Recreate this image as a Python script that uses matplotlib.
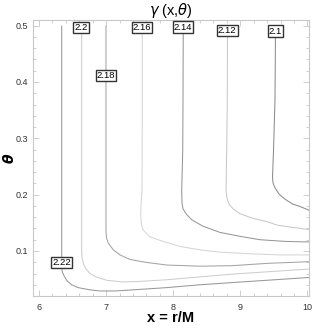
import matplotlib
matplotlib.use("Agg")
import matplotlib.pyplot as plt
from matplotlib.ticker import MultipleLocator

plt.rcParams['font.family'] = ['Liberation Sans', 'DejaVu Sans']

# contour levels of gamma(x, theta)
levels = [2.1, 2.12, 2.14, 2.16, 2.18, 2.2, 2.22]
level_labels = ["2.1", "2.12", "2.14", "2.16", "2.18", "2.2", "2.22"]

# traced contour lines (x = r/M, theta)
x_210 = [9.525, 9.517, 9.495, 9.480, 9.487, 9.517, 9.577, 9.666, 9.785, 9.890, 10.031]
t_210 = [0.500, 0.368, 0.279, 0.231, 0.221, 0.212, 0.201, 0.192, 0.183, 0.179, 0.172]

x_212 = [8.809, 8.806, 8.797, 8.787, 8.802, 8.832, 8.891, 8.996, 9.189, 9.398, 9.547, 9.770, 10.031]
t_212 = [0.500, 0.368, 0.279, 0.208, 0.194, 0.183, 0.175, 0.166, 0.158, 0.152, 0.146, 0.142, 0.138]

x_214 = [8.150, 8.146, 8.142, 8.127, 8.131, 8.146, 8.191, 8.280, 8.444, 8.697, 8.996, 9.294, 9.666, 10.031]
t_214 = [0.500, 0.368, 0.279, 0.208, 0.185, 0.175, 0.166, 0.155, 0.144, 0.133, 0.126, 0.120, 0.117, 0.116]

x_216 = [7.539, 7.539, 7.535, 7.520, 7.516, 7.528, 7.554, 7.654, 7.848, 8.101, 8.399, 8.697, 9.145, 9.592, 10.031]
t_216 = [0.500, 0.333, 0.208, 0.182, 0.164, 0.146, 0.137, 0.125, 0.117, 0.108, 0.102, 0.098, 0.095, 0.093, 0.093]

x_218 = [6.998, 6.998, 7.006, 7.033, 7.107, 7.207, 7.356, 7.580, 7.908, 8.399, 8.891, 9.398, 10.031]
t_218 = [0.500, 0.137, 0.123, 0.114, 0.102, 0.093, 0.085, 0.080, 0.075, 0.073, 0.074, 0.078, 0.081]

x_220 = [6.636, 6.636, 6.641, 6.663, 6.700, 6.760, 6.849, 7.009, 7.252, 7.505, 7.908, 8.399, 8.891, 9.398, 10.031]
t_220 = [0.500, 0.102, 0.088, 0.077, 0.068, 0.060, 0.054, 0.048, 0.045, 0.046, 0.049, 0.054, 0.059, 0.063, 0.068]

x_222 = [6.338, 6.338, 6.347, 6.373, 6.417, 6.487, 6.581, 6.760, 6.909, 7.133, 7.401, 7.908, 8.399, 8.891, 9.398, 10.031]
t_222 = [0.500, 0.070, 0.063, 0.056, 0.047, 0.040, 0.035, 0.031, 0.029, 0.029, 0.031, 0.035, 0.040, 0.044, 0.048, 0.053]

curves_x = [x_210, x_212, x_214, x_216, x_218, x_220, x_222]
curves_t = [t_210, t_212, t_214, t_216, t_218, t_220, t_222]

# label positions (x, theta)
label_x = [9.525, 8.806, 8.146, 7.535, 6.998, 6.626, 6.338]
label_t = [0.4904, 0.4912, 0.4974, 0.4970, 0.4112, 0.4961, 0.0802]

line_colors = ["#8c8c8c", "#c8c8c8", "#979797", "#d6d6d6", "#a4a4a4", "#cdcdcd", "#989898"]

fig = plt.figure(figsize=(3.15, 3.28), dpi=100)
ax = fig.add_axes([0.1038, 0.0976, 0.8787, 0.8415])

for xs, ts, c in zip(curves_x, curves_t, line_colors):
    ax.plot(xs, ts, color=c, lw=0.75, solid_capstyle='butt')

for lx, lt, lab in zip(label_x, label_t, level_labels):
    ax.text(lx, lt, lab, ha='center', va='center', fontsize=6.8, color='black', zorder=5,
            bbox=dict(boxstyle='square,pad=0.12', facecolor='white', edgecolor='#333333', lw=1.0))

ax.set_xlim(5.906, 10.031)
ax.set_ylim(0.0201, 0.5101)
ax.xaxis.set_major_locator(MultipleLocator(1))
ax.xaxis.set_minor_locator(MultipleLocator(0.2))
ax.yaxis.set_major_locator(MultipleLocator(0.1))
ax.yaxis.set_minor_locator(MultipleLocator(0.02))
ax.xaxis.set_major_formatter(plt.FuncFormatter(lambda v, p: f"{v:g}"))
ax.yaxis.set_major_formatter(plt.FuncFormatter(lambda v, p: f"{v:g}"))

for s in ax.spines.values():
    s.set_color('#c8c8c8')
    s.set_linewidth(0.8)
ax.tick_params(which='both', direction='in', top=True, right=True, color='#c8c8c8',
               labelsize=6.5, labelcolor='#333333', width=0.6)
ax.tick_params(which='major', length=4)
ax.tick_params(which='minor', length=2)
ax.tick_params(axis='x', pad=5)
ax.tick_params(axis='y', pad=3)

ax.set_title(r"$\gamma$ (x,$\theta$)", fontsize=10.5, pad=3)
fig.text(171 / 315, 1 - 318 / 328, "x = r/M", fontsize=10.5, fontweight='bold',
         ha='center', va='center')
fig.text(10 / 315, 1 - 158 / 328, "θ", fontsize=10, fontweight='bold', fontstyle='italic',
         family='DejaVu Sans', rotation=90, ha='center', va='center')

fig.savefig("out.png", dpi=100)
